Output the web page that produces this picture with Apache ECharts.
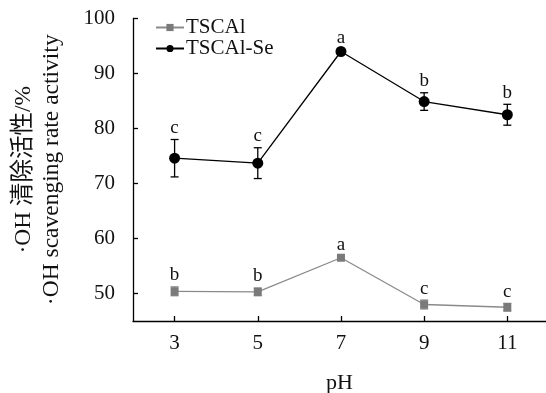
<!DOCTYPE html>
<html><head><meta charset="utf-8">
<script src="https://cdn.jsdelivr.net/npm/echarts@6/dist/echarts.min.js"></script>
<style>html,body{margin:0;padding:0;background:#fff}#c{width:546px;height:393px}</style>
</head><body><div id="c"></div>
<script>
const pH = [3, 5, 7, 9, 11];
const tscal = [50.4, 50.3, 56.5, 48.0, 47.5];
const tscalErr = [0.8, 0.7, 0.3, 0.8, 0.7];
const tscalLetters = ['b', 'b', 'a', 'c', 'c'];
const tscalSe = [74.6, 73.7, 94.0, 84.9, 82.5];
const tscalSeErr = [3.4, 2.8, 0.4, 1.6, 1.9];
const tscalSeLetters = ['c', 'c', 'a', 'b', 'b'];
const yTicks = [50, 60, 70, 80, 90, 100];
const xTicks = [3, 5, 7, 9, 11];

const FONT = '"Liberation Serif", "Times New Roman", "Noto Sans CJK SC", serif';

function errSeries(name, vals, errs, letters, color) {
  return {
    name: name, type: 'custom', z: 1,
    data: pH.map((x, i) => [x, vals[i] - errs[i], vals[i] + errs[i], i]),
    encode: { x: 0, y: [1, 2] },
    renderItem: function (params, api) {
      const x = api.value(0);
      const lo = api.coord([x, api.value(1)]);
      const hi = api.coord([x, api.value(2)]);
      const idx = api.value(3);
      const w = 4;
      return {
        type: 'group',
        children: [
          { type: 'line', shape: { x1: lo[0], y1: lo[1], x2: hi[0], y2: hi[1] }, style: { stroke: color, lineWidth: 1.3 } },
          { type: 'line', shape: { x1: lo[0] - w, y1: lo[1], x2: lo[0] + w, y2: lo[1] }, style: { stroke: color, lineWidth: 1.3 } },
          { type: 'line', shape: { x1: hi[0] - w, y1: hi[1], x2: hi[0] + w, y2: hi[1] }, style: { stroke: color, lineWidth: 1.3 } },
          { type: 'text', style: { x: hi[0], y: hi[1] - 2, text: letters[idx], align: 'center', verticalAlign: 'bottom', font: '19px ' + FONT, fill: '#111' } }
        ]
      };
    }
  };
}

const chart = echarts.init(document.getElementById('c'), null, { renderer: 'canvas' });
chart.setOption({
  animation: false,
  backgroundColor: '#fff',
  textStyle: { fontFamily: FONT },
  grid: { left: 133, right: 0, top: 18.5, bottom: 72, containLabel: false, outerBoundsMode: 'none' },
  legend: {
    data: ['TSCAl', 'TSCAl-Se'],
    orient: 'vertical', left: 150, top: 12,
    itemWidth: 28, itemHeight: 9, itemGap: 0,
    textStyle: { fontSize: 21, fontFamily: FONT, color: '#111', padding: [0, 0, 0, -3] }
  },
  xAxis: {
    type: 'value', min: 2, max: 11.93,
    name: 'pH', nameLocation: 'middle', nameGap: 51,
    nameTextStyle: { fontSize: 22, fontFamily: FONT, color: '#111' },
    axisLine: { show: true, lineStyle: { color: '#000', width: 1.3 } },
    axisTick: { show: true, inside: true, length: 5, customValues: xTicks, lineStyle: { color: '#000', width: 1.3 } },
    axisLabel: { customValues: xTicks, fontSize: 21, fontFamily: FONT, color: '#111', margin: 12 },
    splitLine: { show: false }
  },
  yAxis: {
    type: 'value', min: 45, max: 100,
    name: '·OH 清除活性/%\n·OH scavenging rate activity',
    nameLocation: 'middle', nameRotate: 90, nameGap: 67,
    nameTextStyle: { fontSize: 23.5, fontFamily: FONT, color: '#111', lineHeight: 28, align: 'center' },
    axisLine: { show: true, lineStyle: { color: '#000', width: 1.3 } },
    axisTick: { show: true, inside: true, length: 5, customValues: yTicks, lineStyle: { color: '#000', width: 1.3 } },
    axisLabel: { customValues: yTicks, fontSize: 21, fontFamily: FONT, color: '#111', margin: 18 },
    splitLine: { show: false }
  },
  series: [
    errSeries('errA', tscal, tscalErr, tscalLetters, '#808080'),
    errSeries('errB', tscalSe, tscalSeErr, tscalSeLetters, '#000'),
    {
      name: 'TSCAl', type: 'line', z: 3,
      data: pH.map((x, i) => [x, tscal[i]]),
      symbol: 'rect', symbolSize: 8,
      lineStyle: { color: '#8a8a8a', width: 1.3 },
      itemStyle: { color: '#7a7a7a' }
    },
    {
      name: 'TSCAl-Se', type: 'line', z: 3,
      data: pH.map((x, i) => [x, tscalSe[i]]),
      symbol: 'circle', symbolSize: 11,
      lineStyle: { color: '#000', width: 1.3 },
      itemStyle: { color: '#000' }
    }
  ]
});
</script>
</body></html>
